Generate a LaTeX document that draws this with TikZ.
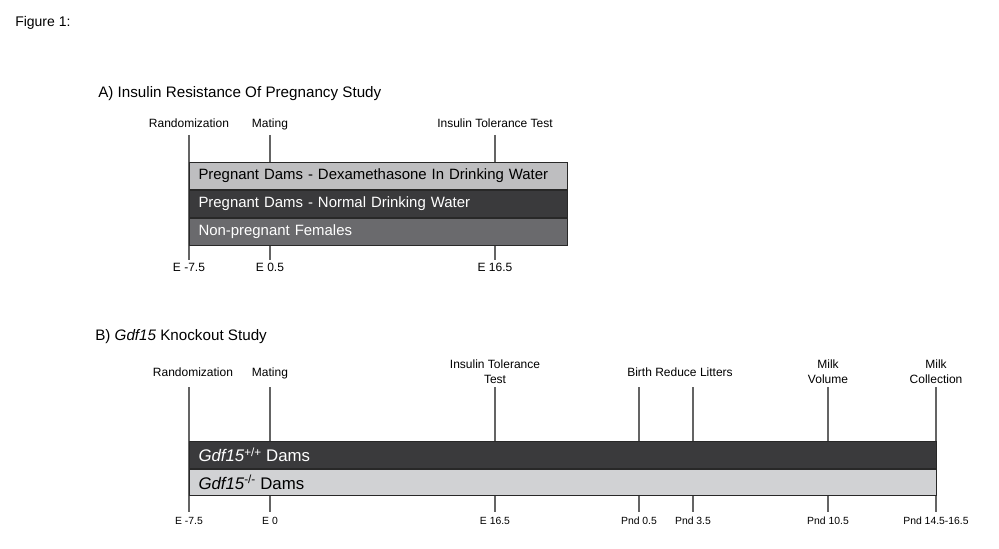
\documentclass[tikz,border=0pt]{standalone}
\usepackage{fontspec}
\setmainfont{Liberation Sans}
\usepackage{tikz}
\definecolor{barlight}{RGB}{190, 190, 192}
\definecolor{bardark}{RGB}{58, 58, 60}
\definecolor{barmid}{RGB}{106, 106, 109}
\definecolor{barpale}{RGB}{209, 210, 212}
\definecolor{barline}{RGB}{40, 40, 40}
\definecolor{tickgray}{RGB}{100, 100, 100}
\usetikzlibrary{positioning}

\begin{document}
\begin{tikzpicture}
				[x=0.75pt, y=-0.75pt, every node/.style={inner sep=0pt},
				 evt/.style={font=\fontsize{9}{11.2}\selectfont, text height=6.5pt, text depth=1.9pt},
				 evttwo/.style={font=\fontsize{9}{11.2}\selectfont, align=center},
				 dayA/.style={font=\fontsize{9}{11}\selectfont, text height=6.5pt, text depth=1.9pt},
				 dayB/.style={font=\fontsize{7.8}{9}\selectfont, text height=5.6pt, text depth=1.6pt},
				 ttl/.style={font=\fontsize{11.4}{13}\selectfont, anchor=west},
				 tick/.style={line width=1pt, draw=tickgray},
				 rowA/.style={draw=barline, line width=0.75pt, minimum height=20.25pt, text width=269.8pt, inner xsep=6.75pt, align=left, font=\fontsize{11.2}{13}\selectfont},
				 rowB/.style={draw=barline, line width=0.75pt, minimum height=19.9pt, text width=546.5pt, inner xsep=6.75pt, align=left, font=\fontsize{12.6}{14}\selectfont}]
				\useasboundingbox (0, 0) rectangle (999, 549);
				\node (fig) [anchor=west, font=\fontsize{10.5}{12}\selectfont] at (15, 23) {Figure 1:};
				% panel A
				\node (titleA) [ttl] at (98, 94) {A) Insulin Resistance Of Pregnancy Study};
				\node (randA) [evt] at (189, 124) {Randomization};
				\node (matA) [evt] at (270, 124) {Mating};
				\node (ittA) [evt] at (495, 124) {Insulin Tolerance Test};
				\coordinate (randAtop) at (189, 135);
				\coordinate (matAtop) at (270, 135);
				\coordinate (ittAtop) at (495, 135);
				\node (dRandA) [dayA] at (189, 268) {E -7.5};
				\node (dMatA) [dayA] at (270, 268) {E 0.5};
				\node (dIttA) [dayA] at (495, 268) {E 16.5};
				\coordinate (randAbot) at (189, 260);
				\coordinate (matAbot) at (270, 260);
				\coordinate (ittAbot) at (495, 260);
				\draw [tick] (randAtop) to (randAbot);
				\draw [tick] (matAtop) to (matAbot);
				\draw [tick] (ittAtop) to (ittAbot);
				\node (dexA) [rowA, fill=barlight, anchor=north west] at (189, 162) {Pregnant Dams - Dexamethasone In Drinking Water};
				\node (normA) [rowA, fill=bardark, text=white, below=0pt of dexA] {Pregnant Dams - Normal Drinking Water};
				\node (nonA) [rowA, fill=barmid, text=white, below=0pt of normA] {Non-pregnant Females};
				% panel B
				\node (titleB) [ttl] at (95, 337) {B) \textit{Gdf15} Knockout Study};
				\node (randB) [evt] at (193, 373) {Randomization};
				\node (matB) [evt] at (270, 373) {Mating};
				\node (ittB) [evttwo] at (495, 371.5) {Insulin Tolerance\\Test};
				\node (birthB) [evt] at (680, 373) {Birth Reduce Litters};
				\node (volB) [evttwo] at (828, 371.5) {Milk\\Volume};
				\node (colB) [evttwo] at (936, 371.5) {Milk\\Collection};
				\coordinate (randBtop) at (189, 387);
				\coordinate (matBtop) at (270, 387);
				\coordinate (ittBtop) at (495, 387);
				\coordinate (birthBtop) at (639, 387);
				\coordinate (redBtop) at (693, 387);
				\coordinate (volBtop) at (828, 387);
				\coordinate (colBtop) at (936, 387);
				\node (dRandB) [dayB] at (189, 522) {E -7.5};
				\node (dMatB) [dayB] at (270, 522) {E 0};
				\node (dIttB) [dayB] at (495, 522) {E 16.5};
				\node (dBirthB) [dayB] at (639, 522) {Pnd 0.5};
				\node (dRedB) [dayB] at (693, 522) {Pnd 3.5};
				\node (dVolB) [dayB] at (828, 522) {Pnd 10.5};
				\node (dColB) [dayB] at (936, 522) {Pnd 14.5-16.5};
				\coordinate (randBbot) at (189, 512);
				\coordinate (matBbot) at (270, 512);
				\coordinate (ittBbot) at (495, 512);
				\coordinate (birthBbot) at (639, 512);
				\coordinate (redBbot) at (693, 512);
				\coordinate (volBbot) at (828, 512);
				\coordinate (colBbot) at (936, 512);
				\draw [tick] (randBtop) to (randBbot);
				\draw [tick] (matBtop) to (matBbot);
				\draw [tick] (ittBtop) to (ittBbot);
				\draw [tick] (birthBtop) to (birthBbot);
				\draw [tick] (redBtop) to (redBbot);
				\draw [tick] (volBtop) to (volBbot);
				\draw [tick] (colBtop) to (colBbot);
				\node (wtB) [rowB, fill=bardark, text=white, anchor=north west] at (189, 441) {\textit{Gdf15}\textsuperscript{+/+}\kern-1pt\ Dams};
				\node (koB) [rowB, fill=barpale, below=0pt of wtB] {\textit{Gdf15}\textsuperscript{-/-}\kern-1pt\ Dams};
		\end{tikzpicture}
\end{document}
